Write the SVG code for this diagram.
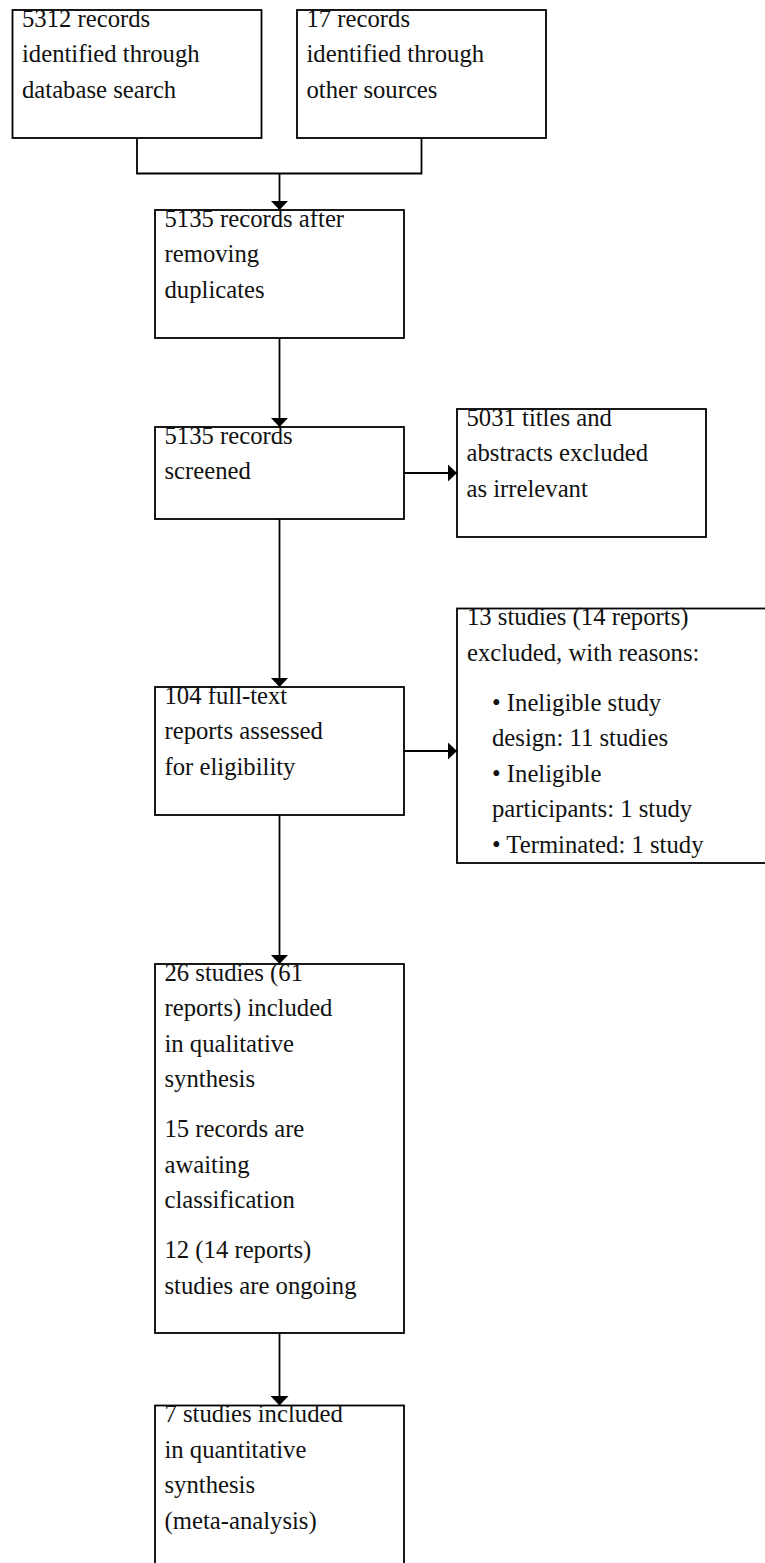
<svg xmlns="http://www.w3.org/2000/svg" width="765" height="1563" viewBox="0 0 765 1563">
<style>
  .box { fill: none; stroke: #000; stroke-width: 1.8; }
  .t { font-family: "Liberation Serif", "Times New Roman", serif; font-size: 24.7px; fill: #111; }
  .c { fill: none; stroke: #000; stroke-width: 1.8; }
</style>
<defs>
  <marker id="ah" markerUnits="userSpaceOnUse" markerWidth="10" markerHeight="18" refX="9.5" refY="9" orient="auto" viewBox="0 0 10 18">
    <path d="M0,0 L9.5,9 L0,18 Z" fill="#000"/>
  </marker>
</defs>
<rect width="765" height="1563" fill="#fff"/>

<g id="connectors">
  <path class="c" d="M137,138 V173.5 H421.5 V138"/>
  <path class="c" d="M279.5,173.5 V210" marker-end="url(#ah)"/>
  <path class="c" d="M279.5,338 V427" marker-end="url(#ah)"/>
  <path class="c" d="M404,473 H457" marker-end="url(#ah)"/>
  <path class="c" d="M279.5,519 V687" marker-end="url(#ah)"/>
  <path class="c" d="M404,751 H457" marker-end="url(#ah)"/>
  <path class="c" d="M279.5,815 V964" marker-end="url(#ah)"/>
  <path class="c" d="M279.5,1333 V1405.5" marker-end="url(#ah)"/>
</g>

<g id="n1">
  <rect class="box" x="12.5" y="10" width="249" height="128"/>
  <text class="t" x="22" y="26.5">5312 records</text>
  <text class="t" x="22" y="62">identified through</text>
  <text class="t" x="22" y="97.5">database search</text>
</g>
<g id="n2">
  <rect class="box" x="297" y="10" width="249" height="128"/>
  <text class="t" x="306.5" y="26.5">17 records</text>
  <text class="t" x="306.5" y="62">identified through</text>
  <text class="t" x="306.5" y="97.5">other sources</text>
</g>
<g id="n3">
  <rect class="box" x="155" y="210" width="249" height="128"/>
  <text class="t" x="164.5" y="226.5">5135 records after</text>
  <text class="t" x="164.5" y="262">removing</text>
  <text class="t" x="164.5" y="297.5">duplicates</text>
</g>
<g id="n4">
  <rect class="box" x="155" y="427" width="249" height="92"/>
  <text class="t" x="164.5" y="443.5">5135 records</text>
  <text class="t" x="164.5" y="479">screened</text>
</g>
<g id="n5">
  <rect class="box" x="457" y="409" width="249" height="128"/>
  <text class="t" x="466.5" y="425.5">5031 titles and</text>
  <text class="t" x="466.5" y="461">abstracts excluded</text>
  <text class="t" x="466.5" y="496.5">as irrelevant</text>
</g>
<g id="n6">
  <rect class="box" x="155" y="687" width="249" height="128"/>
  <text class="t" x="164.5" y="703.5">104 full-text</text>
  <text class="t" x="164.5" y="739">reports assessed</text>
  <text class="t" x="164.5" y="774.5">for eligibility</text>
</g>
<g id="n7">
  <rect class="box" x="457" y="608.5" width="320" height="254.5"/>
  <text class="t" x="467" y="625">13 studies (14 reports)</text>
  <text class="t" x="467" y="660.5">excluded, with reasons:</text>
  <text class="t" x="492" y="710.5">• Ineligible study</text>
  <text class="t" x="492" y="746">design: 11 studies</text>
  <text class="t" x="492" y="781.5">• Ineligible</text>
  <text class="t" x="492" y="817">participants: 1 study</text>
  <text class="t" x="492" y="852.5">• Terminated: 1 study</text>
</g>
<g id="n8">
  <rect class="box" x="155" y="964" width="249" height="369"/>
  <text class="t" x="164.5" y="980.5">26 studies (61</text>
  <text class="t" x="164.5" y="1016">reports) included</text>
  <text class="t" x="164.5" y="1051.5">in qualitative</text>
  <text class="t" x="164.5" y="1087">synthesis</text>
  <text class="t" x="164.5" y="1137">15 records are</text>
  <text class="t" x="164.5" y="1172.5">awaiting</text>
  <text class="t" x="164.5" y="1208">classification</text>
  <text class="t" x="164.5" y="1258">12 (14 reports)</text>
  <text class="t" x="164.5" y="1293.5">studies are ongoing</text>
</g>
<g id="n9">
  <rect class="box" x="155" y="1405.5" width="249" height="170"/>
  <text class="t" x="164.5" y="1422">7 studies included</text>
  <text class="t" x="164.5" y="1457.5">in quantitative</text>
  <text class="t" x="164.5" y="1493">synthesis</text>
  <text class="t" x="164.5" y="1528.5">(meta-analysis)</text>
</g>
</svg>
